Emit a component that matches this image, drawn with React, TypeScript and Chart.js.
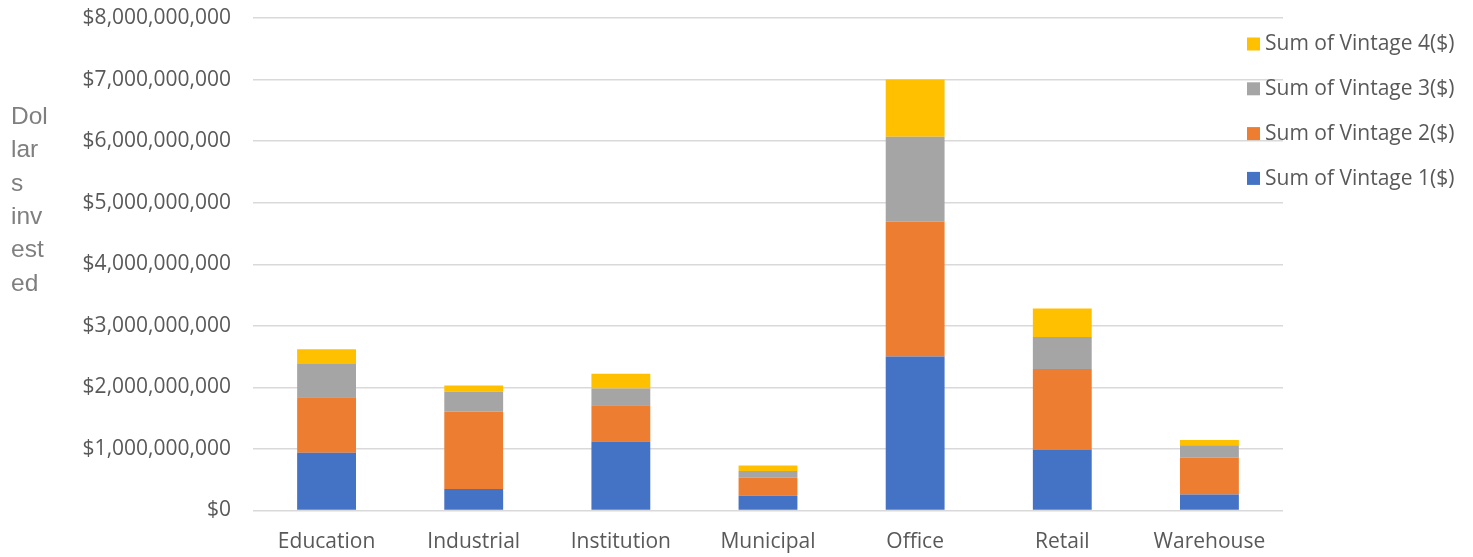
import React, { useEffect, useRef } from "react";
import { Chart, registerables } from "chart.js";

Chart.register(...registerables);

const categories = ["Education", "Industrial", "Institution", "Municipal", "Office", "Retail", "Warehouse"];
const vintage1 = [940e6, 350e6, 1120e6, 240e6, 2500e6, 990e6, 260e6];
const vintage2 = [900e6, 1260e6, 590e6, 290e6, 2190e6, 1310e6, 600e6];
const vintage3 = [540e6, 320e6, 270e6, 110e6, 1380e6, 520e6, 200e6];
const vintage4 = [240e6, 100e6, 240e6, 90e6, 930e6, 460e6, 85e6];
const seriesNames = ["Sum of Vintage 1($)", "Sum of Vintage 2($)", "Sum of Vintage 3($)", "Sum of Vintage 4($)"];
const seriesColors = ["#4472C4", "#ED7D31", "#A5A5A5", "#FFC000"];
const yTitleLines = ["Dol", "lar", "s", "inv", "est", "ed"];

const FONT = "'Open Sans', sans-serif";
const TITLE_FONT = "'Liberation Sans', Arial, sans-serif";

const customPlugin = {
  id: "customDecor",
  afterDraw(chart: any) {
    const ctx = chart.ctx;
    ctx.save();
    // y title
    ctx.fillStyle = "#7F7F7F";
    ctx.font = `24.5px ${TITLE_FONT}`;
    ctx.textAlign = "left";
    ctx.textBaseline = "middle";
    yTitleLines.forEach((t, i) => {
      ctx.fillText(t, 11, 117 + i * 33.4);
    });
    // legend
    const ds = chart.data.datasets;
    ctx.font = `21px ${FONT}`;
    for (let k = 0; k < ds.length; k++) {
      const d = ds[ds.length - 1 - k];
      const cy = 43.5 + k * 44.8;
      ctx.fillStyle = d.backgroundColor;
      ctx.fillRect(1247, cy - 6, 13, 13);
      ctx.fillStyle = "#595959";
      ctx.fillText(d.label, 1265, cy + 1);
    }
    ctx.restore();
  },
};

export default function App() {
  const ref = useRef<HTMLCanvasElement>(null);
  useEffect(() => {
    const values = [vintage1, vintage2, vintage3, vintage4];
    const chart = new Chart(ref.current!, {
      type: "bar",
      data: {
        labels: categories,
        datasets: values.map((v, i) => ({
          label: seriesNames[i],
          data: v,
          backgroundColor: seriesColors[i],
          borderWidth: 0,
          categoryPercentage: 1,
          barPercentage: 0.4,
        })),
      },
      options: {
        responsive: false,
        animation: false,
        layout: { padding: { left: 0, right: 190, top: 18, bottom: 0 } },
        plugins: { legend: { display: false }, tooltip: { enabled: false } },
        scales: {
          x: {
            stacked: true,
            grid: { display: false, drawTicks: false },
            border: { display: false },
            ticks: { color: "#595959", font: { family: FONT, size: 21 }, padding: 19 },
            afterFit: (s: any) => { s.height = 46.5; },
          },
          y: {
            stacked: true,
            min: 0,
            max: 8e9,
            grid: { color: "#D9D9D9", lineWidth: 1.5, drawTicks: false },
            border: { display: false },
            ticks: {
              stepSize: 1e9,
              color: "#595959",
              font: { family: FONT, size: 21 },
              padding: 22,
              callback: (v: any) => "$" + Number(v).toLocaleString("en-US"),
            },
            afterFit: (s: any) => { s.width = 253; s.paddingTop = 0; s.paddingBottom = 0; },
          },
        },
      },
      plugins: [customPlugin],
    });
    return () => chart.destroy();
  }, []);
  return (
    <div style={{ position: "fixed", left: 0, top: 0, width: 1473, height: 557, background: "#fff" }}>
      <canvas ref={ref} width={1473} height={557} />
    </div>
  );
}
